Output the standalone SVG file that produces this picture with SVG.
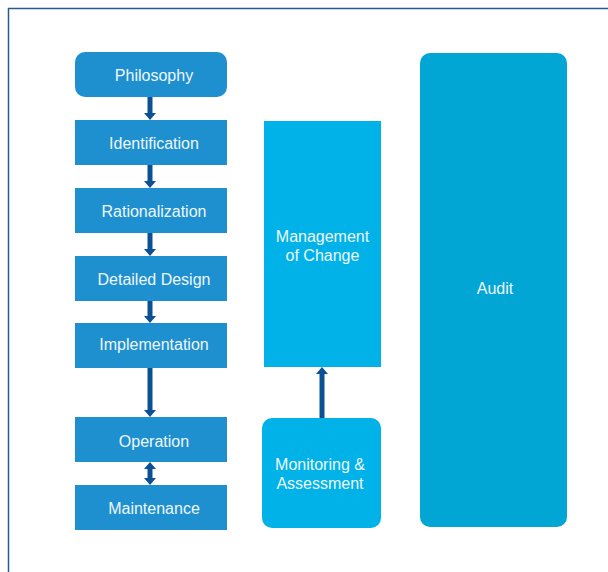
<svg xmlns="http://www.w3.org/2000/svg" width="608" height="572" viewBox="0 0 608 572">
<defs>
<style>
.a{fill:#1e90d0}
.m{fill:#00b2e8}
.u{fill:#02a6d5}
.t{font-family:"Liberation Sans",Arial,sans-serif;font-size:16px;fill:#eef7fc;text-anchor:middle}
.c{stroke:#0b4f95;stroke-width:5;fill:none}
</style>
<marker id="ah" viewBox="0 0 7 12" refX="0" refY="6" markerWidth="1.4" markerHeight="2.4" markerUnits="strokeWidth" orient="auto-start-reverse">
<path d="M0,0 L7,6 L0,12 z" fill="#0b4f95"/>
</marker>
</defs>
<rect width="608" height="572" fill="#fff"/>
<path d="M8.5,572 V8.5 H608" fill="none" stroke="#2a5a96" stroke-width="1.5"/>
<g id="philosophy"><rect class="a" x="75" y="52" width="152" height="45" rx="10"/><text class="t" x="154" y="81">Philosophy</text></g>
<g id="identification"><rect class="a" x="75" y="120" width="152" height="45"/><text class="t" x="154" y="149">Identification</text></g>
<g id="rationalization"><rect class="a" x="75" y="188" width="152" height="45"/><text class="t" x="154" y="217">Rationalization</text></g>
<g id="detailed-design"><rect class="a" x="75" y="256" width="152" height="45"/><text class="t" x="154" y="285">Detailed Design</text></g>
<g id="implementation"><rect class="a" x="75" y="323" width="152" height="45"/><text class="t" x="154" y="350">Implementation</text></g>
<g id="operation"><rect class="a" x="75" y="417" width="152" height="45"/><text class="t" x="154" y="447">Operation</text></g>
<g id="maintenance"><rect class="a" x="75" y="485" width="152" height="45"/><text class="t" x="154" y="514">Maintenance</text></g>
<g id="management-of-change"><rect class="m" x="264" y="121" width="117" height="246"/><text class="t" x="322.5" y="242">Management</text><text class="t" x="322.5" y="261">of Change</text></g>
<g id="monitoring"><rect class="m" x="262" y="418" width="119" height="110" rx="10"/><text class="t" x="320" y="470">Monitoring &amp;</text><text class="t" x="320" y="489">Assessment</text></g>
<g id="audit"><rect class="u" x="420" y="53" width="147" height="474" rx="10"/><text class="t" x="495" y="294">Audit</text></g>
<g id="connectors">
<line class="c" x1="150" y1="97" x2="150" y2="113" marker-end="url(#ah)"/>
<line class="c" x1="150" y1="165" x2="150" y2="181" marker-end="url(#ah)"/>
<line class="c" x1="150" y1="233" x2="150" y2="249" marker-end="url(#ah)"/>
<line class="c" x1="150" y1="301" x2="150" y2="316" marker-end="url(#ah)"/>
<line class="c" x1="150" y1="368" x2="150" y2="410" marker-end="url(#ah)"/>
<line class="c" x1="150" y1="469" x2="150" y2="478" marker-start="url(#ah)" marker-end="url(#ah)"/>
<line class="c" x1="322" y1="418" x2="322" y2="374" marker-end="url(#ah)"/>
</g>
</svg>
